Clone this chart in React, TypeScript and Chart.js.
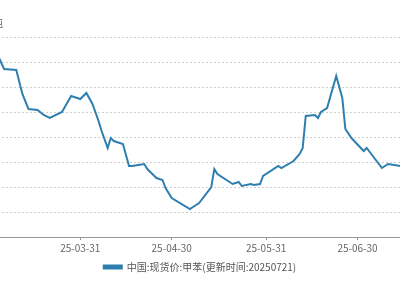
import React, { useEffect, useRef } from "react";
import { Chart, registerables } from "chart.js";

Chart.register(...registerables);

const dates = [
  "2025-03-04", "2025-03-06", "2025-03-10", "2025-03-12", "2025-03-14", "2025-03-17",
  "2025-03-19", "2025-03-21", "2025-03-25", "2025-03-28", "2025-03-31", "2025-04-02",
  "2025-04-04", "2025-04-06", "2025-04-07", "2025-04-09", "2025-04-10", "2025-04-11",
  "2025-04-14", "2025-04-16", "2025-04-17", "2025-04-21", "2025-04-22", "2025-04-24",
  "2025-04-25", "2025-04-27", "2025-04-28", "2025-04-30", "2025-05-06", "2025-05-07",
  "2025-05-09", "2025-05-13", "2025-05-14", "2025-05-15", "2025-05-20", "2025-05-22",
  "2025-05-23", "2025-05-26", "2025-05-27", "2025-05-29", "2025-05-30", "2025-06-04",
  "2025-06-05", "2025-06-09", "2025-06-11", "2025-06-12", "2025-06-13", "2025-06-16",
  "2025-06-17", "2025-06-18", "2025-06-20", "2025-06-23", "2025-06-25", "2025-06-26",
  "2025-06-28", "2025-07-02", "2025-07-03", "2025-07-04", "2025-07-08", "2025-07-10",
  "2025-07-14", "2025-07-17", "2025-07-21",
];

const prices = [
  5725, 5672, 5668, 5572, 5512, 5508,
  5488, 5476, 5500, 5564, 5552, 5576,
  5532, 5464, 5424, 5356, 5396, 5384,
  5372, 5284, 5284, 5292, 5272, 5248,
  5236, 5228, 5196, 5156, 5112, 5120,
  5136, 5200, 5272, 5252, 5212, 5220,
  5204, 5212, 5208, 5212, 5244, 5284,
  5276, 5304, 5332, 5356, 5484, 5488,
  5476, 5500, 5516, 5644, 5556, 5432,
  5396, 5344, 5356, 5340, 5276, 5292,
  5284, 5280, 5275,
];

const tickDates = ["2025-03-31", "2025-04-30", "2025-05-31", "2025-06-30"];

const seriesName = "中国:现货价:甲苯(更新时间:20250721)";
const unitLabel = "元/吨";

const yMin = 5000;
const yMax = 5800;
const yStep = 100;

const DAY = 86400000;
const BASE = Date.UTC(2025, 0, 0);
const toDay = (s: string) => {
  const [y, m, d] = s.split("-").map(Number);
  return Math.round((Date.UTC(y, m - 1, d) - BASE) / DAY);
};
const fromDay = (n: number) => {
  const dt = new Date(BASE + n * DAY);
  const yy = String(dt.getUTCFullYear()).slice(2);
  const mm = String(dt.getUTCMonth() + 1).padStart(2, "0");
  const dd = String(dt.getUTCDate()).padStart(2, "0");
  return `${yy}-${mm}-${dd}`;
};

const FONT = "'Noto Sans CJK SC', 'Noto Sans', sans-serif";
const LINE = "#2e7fb0";

const W = 504;
const H = 300;
const SHIFT = 52;

export default function App() {
  const ref = useRef<HTMLCanvasElement | null>(null);

  useEffect(() => {
    if (!ref.current) return;
    const points = dates.map((d, i) => ({ x: toDay(d), y: prices[i] }));
    const ticks = tickDates.map(toDay);

    const unitPlugin = {
      id: "unitLabel",
      afterDraw(chart: any) {
        const ctx = chart.ctx;
        ctx.save();
        ctx.font = `11px ${FONT}`;
        ctx.fillStyle = "#666";
        ctx.textAlign = "right";
        ctx.textBaseline = "middle";
        ctx.fillText(unitLabel, SHIFT + 3, 23);
        ctx.restore();
      },
    };

    const chart = new Chart(ref.current, {
      type: "line",
      data: {
        datasets: [
          {
            label: seriesName,
            data: points,
            borderColor: LINE,
            backgroundColor: LINE,
            borderWidth: 2,
            pointRadius: 0,
            tension: 0,
          },
        ],
      },
      options: {
        responsive: false,
        animation: false,
        layout: { padding: { top: 37, right: 0, left: 0, bottom: 18 } },
        plugins: {
          tooltip: { enabled: false },
          legend: {
            position: "bottom",
            labels: {
              boxWidth: 18,
              boxHeight: 3,
              padding: 6,
              color: "#555",
              font: { size: 10, family: FONT },
            },
          },
        },
        scales: {
          x: {
            type: "linear",
            min: toDay(dates[0]),
            max: 212,
            afterBuildTicks: (scale: any) => {
              scale.ticks = ticks.map((v) => ({ value: v }));
            },
            ticks: {
              autoSkip: false,
              maxRotation: 0,
              color: "#666",
              font: { size: 10, family: FONT },
              padding: 2,
              callback: (v: any) => fromDay(Number(v)),
            },
            grid: { drawOnChartArea: false, drawTicks: true, tickLength: 3, color: "#999" },
            border: { display: true, color: "#999" },
          },
          y: {
            min: yMin,
            max: yMax,
            afterFit: (scale: any) => {
              scale.width = 50;
            },
            ticks: { stepSize: yStep, color: "#666", font: { size: 10, family: FONT } },
            grid: { color: "#cfcfcf", drawTicks: false },
            border: { display: false, dash: [2, 2] },
          },
        },
      },
      plugins: [unitPlugin],
    });
    return () => chart.destroy();
  }, []);

  return (
    <div style={{ position: "fixed", left: 0, top: 0, width: 400, height: 300, overflow: "hidden", background: "#fff" }}>
      <div style={{ position: "absolute", left: -SHIFT, top: 0, width: W, height: H }}>
        <canvas ref={ref} width={W} height={H} style={{ width: W, height: H }} />
      </div>
    </div>
  );
}
